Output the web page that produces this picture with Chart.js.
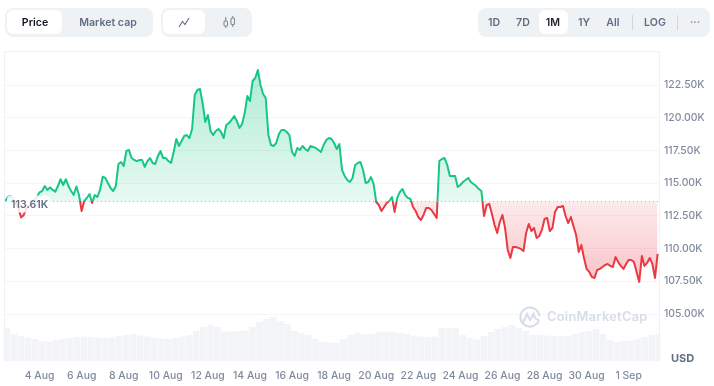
<!DOCTYPE html>
<html>
<head>
<meta charset="utf-8">
<title>Price chart</title>
<script src="https://cdn.jsdelivr.net/npm/chart.js@4/dist/chart.umd.min.js"></script>
<style>
  html, body { margin: 0; padding: 0; background: #fff; }
  body { width: 714px; height: 386px; overflow: hidden; position: relative; font-family: Inter, sans-serif; }
  #plot { position: absolute; left: 0; top: 0; }
  .grupo { position: absolute; top: 8px; height: 29px; background: #eff2f5; border-radius: 8px; }
  .activo { position: absolute; top: 2px; height: 24px; background: #fff; border-radius: 6px; }
  .txt { position: absolute; top: 22px; transform: translate(-50%, -50%); font-size: 10.6px; font-weight: 600; color: #616e85; white-space: nowrap; }
  .sep { position: absolute; top: 15px; width: 1px; height: 15px; background: #cfd6e4; }
  #usd { position: absolute; left: 671px; top: 351px; font-size: 11px; font-weight: 700; color: #616e85; }
  #marca { position: absolute; left: 547px; top: 309px; font-size: 12.8px; font-weight: 600; color: #d6dce8; white-space: nowrap; letter-spacing: 0.3px; }
  svg { position: absolute; }
</style>
</head>
<body>
<canvas id="plot" width="714" height="386"></canvas>

<div class="grupo" style="left:5px;width:148px"><div class="activo" style="left:2px;width:55px"></div></div>
<div class="grupo" style="left:161px;width:91px"><div class="activo" style="left:2px;width:42px"></div></div>
<div class="grupo" style="left:478px;width:232px"><div class="activo" style="left:61px;width:29px"></div></div>
<div class="txt" style="left:35px;color:#0d1421">Price</div>
<div class="txt" style="left:108px">Market cap</div>
<div class="txt" style="left:494px">1D</div>
<div class="txt" style="left:523px">7D</div>
<div class="txt" style="left:553px;color:#222531">1M</div>
<div class="txt" style="left:584px">1Y</div>
<div class="txt" style="left:613px">All</div>
<div class="sep" style="left:632px"></div>
<div class="txt" style="left:655px">LOG</div>
<div class="sep" style="left:677px"></div>
<div class="txt" style="left:695px;color:#808a9d">···</div>

<svg style="left:178px;top:17px" width="12" height="11" viewBox="0 0 12 11" fill="none" stroke="#616e85" stroke-width="1.1">
  <path d="M1 10 L4.5 4.5 L7 7.5 L11 1"/>
</svg>
<svg style="left:223px;top:16px" width="13" height="12" viewBox="0 0 13 12" fill="none" stroke="#808a9d" stroke-width="1.1">
  <rect x="1" y="5" width="3.5" height="5" rx="1"/><path d="M2.75 1 V5 M2.75 10 V12"/>
  <rect x="8" y="2" width="3.5" height="6.5" rx="1"/><path d="M9.75 0 V2 M9.75 8.5 V11"/>
</svg>
<svg style="left:519px;top:306px" width="22" height="23" viewBox="0 0 22 23" fill="none" stroke="#d6dce8" stroke-width="2">
  <path d="M20 14 A9.5 9.5 0 1 1 20.4 10"/>
  <path d="M4.5 16 L8 8 L11 14 L14.5 8 Q16 14 20 14"/>
</svg>
<div id="marca">CoinMarketCap</div>
<div id="usd">USD</div>

<script>
// precio, un valor cada 3 horas (miles de USD)
const priceStartDay = 2.375
const priceStepDays = 0.125
const priceK = [
  113.65, 113.95, 114.03, 113.80, 113.49,
  113.04, 112.39, 112.58, 113.04, 113.26, 113.42, 113.72, 113.95,
  114.31, 114.41, 114.79, 114.49, 114.69, 114.49, 114.36, 114.79,
  115.31, 114.87, 115.31, 114.79, 114.41, 114.11, 114.76, 114.11,
  112.88, 113.65, 113.88, 114.18, 113.49, 114.11, 113.95, 114.49,
  115.50, 115.41, 115.02, 114.64, 114.41, 114.79, 116.48, 116.63,
  116.32, 117.47, 117.55, 116.93, 116.78, 116.70, 116.78, 116.78,
  116.25, 116.70, 116.93, 116.55, 116.48, 117.09, 117.47, 116.93,
  116.93, 116.70, 116.55, 117.39, 118.39, 117.85, 118.23, 118.62,
  118.69, 118.46, 119.15, 121.75, 122.13, 122.21, 121.14, 119.69,
  120.22, 119.00, 118.69, 119.00, 119.15, 118.92, 118.46, 119.46,
  119.61, 119.84, 120.14, 119.76, 119.23, 119.53, 120.37, 121.67,
  121.29, 122.82, 123.05, 123.66, 122.52, 121.83, 121.52, 118.69,
  117.93, 117.85, 118.08, 118.77, 119.07, 119.07, 118.92, 118.69,
  117.39, 117.09, 117.70, 117.55, 117.85, 117.62, 117.47, 117.85,
  117.78, 117.70, 117.55, 117.39, 117.93, 118.31, 118.46, 118.39,
  118.08, 117.62, 118.00, 116.02, 115.56, 115.25, 115.10, 115.41,
  116.40, 116.55, 116.63, 116.02, 115.02, 115.10, 115.48, 114.95,
  113.57, 113.34, 112.88, 113.19, 113.49, 113.65, 113.95, 112.81,
  113.88, 114.34, 114.56, 114.11, 113.88, 113.80, 113.19, 112.88,
  112.42, 112.19, 112.58, 113.11, 113.11, 112.96, 112.65, 112.35,
  116.70, 116.86, 116.93, 116.40, 115.56, 115.56, 115.56, 114.72,
  114.87, 115.10, 115.25, 115.41, 115.10, 114.95, 114.79, 114.56,
  114.41, 112.50, 113.34, 113.42, 112.65, 111.81, 111.20, 112.04,
  112.58, 111.58, 109.90, 109.29, 110.13, 110.13, 110.06, 109.98,
  109.82, 111.20, 111.89, 111.35, 111.58, 110.82, 110.97, 111.43,
  112.27, 112.35, 111.35, 111.58, 112.81, 113.19, 113.19, 113.27,
  112.50, 111.96, 112.42, 111.74, 111.05, 109.75, 110.28, 109.29,
  108.45, 108.22, 107.84, 107.76, 108.37, 108.45, 108.60, 108.75,
  108.83, 108.68, 108.60, 109.37, 108.98, 108.68, 108.45, 108.83,
  109.14, 109.14, 108.98, 108.22, 107.46, 109.44, 108.68, 108.91,
  109.29, 108.83, 107.76, 109.60
]

// volumen, un valor cada 8 horas (sin eje en la imagen, unidades relativas)
const volumeStartDay = 2.45
const volumeStepDays = 1 / 3
const volume = [
  33, 27, 25, 23.5, 22, 20, 19.5, 21, 22, 23, 24, 24.5, 24, 23.5, 23, 23.5,
  25, 26, 27, 25.5, 24.5, 23, 22.5, 22, 23, 24.5, 26, 30, 34, 36, 34, 29.5,
  29.5, 30, 30.5, 34, 39, 42, 44, 40, 37, 30, 28, 26, 22, 19, 18.5, 18, 22,
  26, 28, 26.5, 27, 29, 29.5, 29, 28, 27, 25.5, 24.5, 24, 24.5, 33, 33.5,
  33, 26, 23, 21.5, 25, 29, 32, 34, 36, 33, 30, 26, 26, 25.5, 25, 25, 25,
  27, 29, 30, 32, 27, 21, 19, 20, 20.5, 22, 24, 26, 27
]

const basePrice = 113.61
const baseLabel = '113.61K'
const yTicks = [105, 107.5, 110, 112.5, 115, 117.5, 120, 122.5]
const yTickLabels = ['105.00K', '107.50K', '110.00K', '112.50K', '115.00K', '117.50K', '120.00K', '122.50K']
const xTickDays = [4, 6, 8, 10, 12, 14, 16, 18, 20, 22, 24, 26, 28, 30, 32]
const xTickLabels = ['4 Aug', '6 Aug', '8 Aug', '10 Aug', '12 Aug', '14 Aug', '16 Aug', '18 Aug', '20 Aug', '22 Aug', '24 Aug', '26 Aug', '28 Aug', '30 Aug', '1 Sep']
const xMin = 2.358
const xMax = 33.44

const green = '#16c784'
const red = '#ea3943'
const tickFont = { family: 'Inter', size: 10.4, weight: '500' }

let pricePoints = priceK.map((v, i) => ({ x: priceStartDay + i * priceStepDays, y: v }))
let volumePoints = volume.map((v, i) => ({ x: volumeStartDay + i * volumeStepDays, y: v }))

// marco del area del grafico
let framePlugin = {
  id: 'frame',
  beforeDatasetsDraw(chart) {
    let { ctx, chartArea: a } = chart
    ctx.save()
    ctx.strokeStyle = '#eff2f5'
    ctx.lineWidth = 1
    ctx.beginPath()
    ctx.moveTo(a.left - 0.5, a.bottom)
    ctx.lineTo(a.left - 0.5, a.top - 0.5)
    ctx.lineTo(a.right + 0.5, a.top - 0.5)
    ctx.lineTo(a.right + 0.5, a.bottom)
    ctx.stroke()
    ctx.restore()
  }
}

// etiqueta del precio base sobre la linea punteada
let baseLabelPlugin = {
  id: 'baseLabel',
  afterDatasetsDraw(chart) {
    let { ctx, chartArea: a, scales } = chart
    let y = scales.y.getPixelForValue(basePrice)
    ctx.save()
    ctx.fillStyle = 'rgba(255,255,255,0.85)'
    ctx.beginPath()
    ctx.roundRect(a.left + 2, y - 6, 43, 17, 4)
    ctx.fill()
    ctx.fillStyle = '#616e85'
    ctx.font = '600 10.6px Inter'
    ctx.textBaseline = 'middle'
    ctx.fillText(baseLabel, a.left + 6, y + 3)
    ctx.restore()
  }
}

let chart = new Chart(document.getElementById('plot'), {
  data: {
    datasets: [
      {
        type: 'line',
        label: 'Base',
        data: [{ x: xMin, y: basePrice }, { x: xMax, y: basePrice }],
        borderColor: '#aab3c4',
        borderWidth: 1,
        borderDash: [1, 3],
        pointRadius: 0,
        fill: false,
        order: 1
      },
      {
        type: 'line',
        label: 'Price',
        data: pricePoints,
        borderColor: green,
        borderWidth: 2,
        borderJoinStyle: 'round',
        pointRadius: 0,
        tension: 0,
        fill: { target: { value: basePrice }, above: 'rgba(22,199,132,0.2)', below: 'rgba(234,57,67,0.2)' },
        order: 2
      },
      {
        type: 'bar',
        label: 'Volume',
        data: volumePoints,
        yAxisID: 'y2',
        backgroundColor: '#f2f4f7',
        categoryPercentage: 1,
        barPercentage: 0.95,
        order: 3
      }
    ]
  },
  options: {
    responsive: false,
    animation: false,
    events: [],
    layout: { padding: { top: 52, left: 5, right: 0, bottom: 0 } },
    plugins: { legend: { display: false }, tooltip: { enabled: false } },
    scales: {
      x: {
        type: 'linear',
        min: xMin,
        max: xMax,
        offset: false,
        grid: { display: false },
        border: { display: false },
        afterBuildTicks: (scale) => { scale.ticks = xTickDays.map(v => ({ value: v })) },
        afterFit: (scale) => { scale.height = 25 },
        ticks: {
          autoSkip: false,
          maxRotation: 0,
          padding: 1,
          color: '#808a9d',
          font: tickFont,
          callback: (v) => xTickLabels[xTickDays.indexOf(v)]
        }
      },
      y: {
        position: 'right',
        min: 101.41,
        max: 125.04,
        grid: { color: '#f4f5f7', drawTicks: false },
        border: { display: false },
        afterBuildTicks: (scale) => { scale.ticks = yTicks.map(v => ({ value: v })) },
        afterFit: (scale) => { scale.width = 55 },
        ticks: {
          padding: 5,
          color: '#808a9d',
          font: tickFont,
          callback: (v) => yTickLabels[yTicks.indexOf(v)]
        }
      },
      y2: { display: false, position: 'right', min: 0, max: 309 }
    }
  },
  plugins: [framePlugin, baseLabelPlugin]
})

// degradados verticales, necesitan la escala ya calculada
let ctx = chart.ctx
let yScale = chart.scales.y
let yBase = yScale.getPixelForValue(basePrice)
let yTop = yScale.getPixelForValue(Math.max(...priceK))
let yLow = yScale.getPixelForValue(Math.min(...priceK))

let stroke = ctx.createLinearGradient(0, yTop, 0, yLow)
let cut = (yBase - yTop) / (yLow - yTop)
stroke.addColorStop(0, green)
stroke.addColorStop(cut, green)
stroke.addColorStop(cut, red)
stroke.addColorStop(1, red)

let fillUp = ctx.createLinearGradient(0, yTop, 0, yBase)
fillUp.addColorStop(0, 'rgba(22,199,132,0.34)')
fillUp.addColorStop(1, 'rgba(22,199,132,0.1)')

let fillDown = ctx.createLinearGradient(0, yBase, 0, yLow)
fillDown.addColorStop(0, 'rgba(234,57,67,0.1)')
fillDown.addColorStop(1, 'rgba(234,57,67,0.3)')

let priceSet = chart.data.datasets[1]
priceSet.borderColor = stroke
priceSet.fill = { target: { value: basePrice }, above: fillUp, below: fillDown }
chart.update('none')
</script>
</body>
</html>
